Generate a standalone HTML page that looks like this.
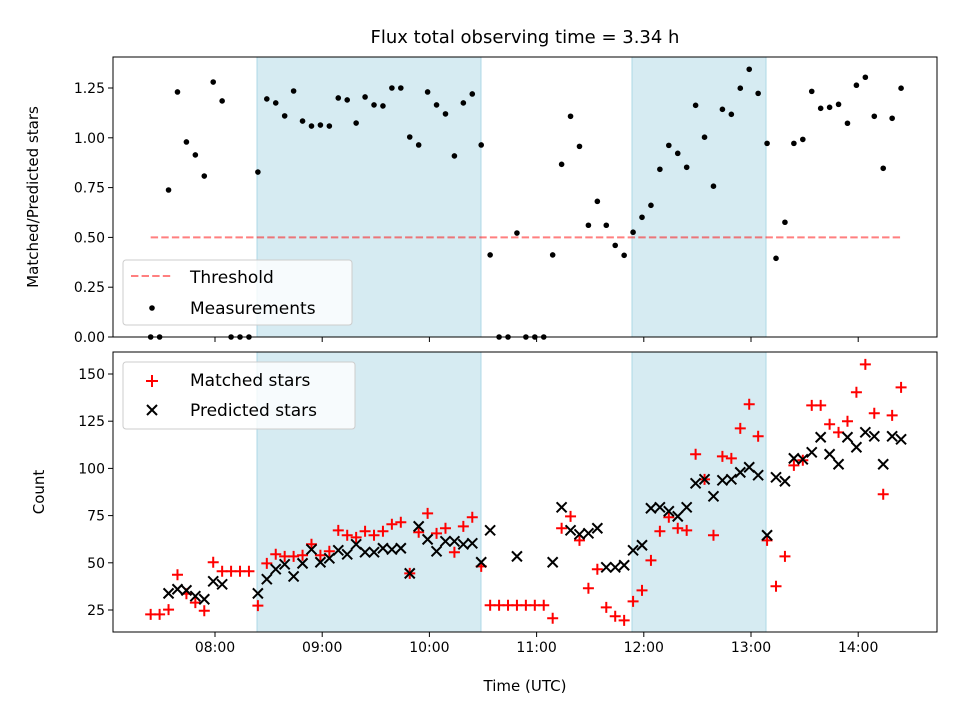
<!DOCTYPE html>
<html><head><meta charset="utf-8"><style>
body{margin:0;background:#fff;}
svg{display:block;font-family:"DejaVu Sans","Liberation Sans",sans-serif;}
</style></head><body>
<svg id="chart" width="960" height="720" viewBox="0 0 960 720" xmlns="http://www.w3.org/2000/svg"></svg>
<script>
const ratioValues=[0,0,0.738,1.23,0.979,0.914,0.808,1.28,1.185,0,0,0,
0.828,1.195,1.175,1.11,1.235,1.084,1.059,1.064,1.059,
1.2,1.19,1.074,1.205,1.165,1.16,1.25,1.25,1.004,0.964,
1.23,1.165,1.12,0.909,1.175,1.22,0.964,0.412,0,0,
0.522,0,0,0,0.412,0.867,1.108,0.957,0.561,0.681,
0.561,0.46,0.41,0.526,0.601,0.661,0.842,0.962,0.922,0.852,
1.163,1.003,0.757,1.143,1.118,1.249,1.344,1.223,0.972,0.395,
0.576,0.972,0.992,1.233,1.148,1.153,1.168,1.073,1.264,1.304,
1.108,0.847,1.098,1.249];
const matchedValues=[22.7,22.7,25.2,43.7,33.6,28.9,24.6,50.3,45.5,45.5,45.5,45.5,
27.3,49.7,54.5,53.4,53.4,54,59.8,54,56.1,
67.2,64.6,63.5,66.7,64.6,66.7,70.4,71.5,44.4,66.2,
76.2,65.6,68.3,55.6,69.3,74.1,48.1,27.5,27.5,27.5,
27.5,27.5,27.5,27.5,20.6,68.3,74.6,61.9,36.5,46.6,
26.4,21.7,19.5,29.6,35.4,51.3,66.7,74.1,68.3,67.2,
107.5,94.2,64.6,106.4,105.3,121.2,134,117,61.9,37.6,
53.4,101.6,104.3,133.4,133.4,123.4,119.1,125,140.3,155.1,
129.2,86.3,128.1,142.9];
const predictedValues=[null,null,33.8,36,35.4,32.3,30.7,40.2,38.6,null,null,null,
33.8,41.3,46.6,49.2,42.8,49.7,57.1,50.3,52.4,
56.6,54.5,59.8,55.6,55.6,57.7,57.1,57.7,44.4,69.3,
62.4,56.1,61.4,61.4,59.8,60.3,50.3,67.2,null,null,
53.4,null,null,null,50.3,79.4,67.2,65.1,65.6,68.3,
47.6,47.6,48.7,56.6,59.3,78.9,79.4,77.3,74.6,79.4,
92.1,94.2,85.2,93.7,94.2,97.9,100.6,96.4,64.6,95.3,
93.2,105.3,104.8,108.5,116.5,107.5,102.2,116.5,111.2,119.1,
117,102.2,117,115.4];
const startHour=7.4, stepHours=5/60;
const observingSpans=[[8.392,10.481],[11.89,13.14]];
const threshold=0.5;
const xTickHours=[8,9,10,11,12,13,14];
const xTickLabels=["08:00","09:00","10:00","11:00","12:00","13:00","14:00"];
const ratioTicks=[0,0.25,0.5,0.75,1.0,1.25];
const countTicks=[25,50,75,100,125,150];

const L=113,R=937,T1=57,B1=337,T2=352,B2=632;
const tMin=8-(215-L)/107.2, tMax=8+(R-215)/107.2;
const xS=t=>L+(t-tMin)/(tMax-tMin)*(R-L);
const rMax=(B1-T1)/199.2;
const y1=v=>B1-v/rMax*(B1-T1);
const cMin=13.35,cMax=161.65;
const y2=v=>B2-(v-cMin)/(cMax-cMin)*(B2-T2);
const timeOf=i=>startHour+i*stepHours;

const svg=document.getElementById('chart');
const NS='http://www.w3.org/2000/svg';
function mk(tag,attrs,parent){const e=document.createElementNS(NS,tag);for(const k in attrs)e.setAttribute(k,attrs[k]);(parent||svg).appendChild(e);return e;}
function txt(s,attrs,parent){const e=mk('text',attrs,parent);e.textContent=s;return e;}

// panels
[[T1,B1,'top-panel'],[T2,B2,'bottom-panel']].forEach(([t,b,nm])=>{
  const g=mk('g',{});
  
  
  observingSpans.forEach(s=>{
    const r=mk('rect',{x:xS(s[0]),y:t,width:xS(s[1])-xS(s[0]),height:b-t,fill:'#add8e6','fill-opacity':0.5,stroke:'#add8e6','stroke-width':1},g);
    
    
  });
});

// threshold
const th=mk('line',{x1:xS(timeOf(0)),x2:xS(timeOf(ratioValues.length-1)),y1:y1(threshold),y2:y1(threshold),stroke:'#ff0000','stroke-opacity':0.5,'stroke-width':2,'stroke-dasharray':'7.4,3.2'});



// measurements
ratioValues.forEach((v,i)=>{
  const c=mk('circle',{cx:xS(timeOf(i)),cy:y1(v),r:2.8,fill:'#000'});
  
  
});
// matched
matchedValues.forEach((v,i)=>{
  if(v==null)return;
  const x=xS(timeOf(i)),y=y2(v);
  const p=mk('path',{d:`M${x-5.5},${y}H${x+5.5}M${x},${y-5.5}V${y+5.5}`,stroke:'#ff0000','stroke-width':2,fill:'none'});
  
  
});
predictedValues.forEach((v,i)=>{
  if(v==null)return;
  const x=xS(timeOf(i)),y=y2(v);
  const p=mk('path',{d:`M${x-5},${y-5}L${x+5},${y+5}M${x-5},${y+5}L${x+5},${y-5}`,stroke:'#000','stroke-width':2,fill:'none'});
  
  
});

// frames & ticks
[[T1,B1],[T2,B2]].forEach(([t,b],pi)=>{
  const f=mk('rect',{x:L,y:t,width:R-L,height:b-t,fill:'none',stroke:'#000','stroke-width':1});
  
  
  xTickHours.forEach((h,k)=>{
    mk('line',{x1:xS(h),x2:xS(h),y1:b,y2:b+5,stroke:'#000'});
    if(pi===1){
      const tl=txt(xTickLabels[k],{x:xS(h),y:b+20,'text-anchor':'middle','font-size':14,fill:'#000'});
      
      
    }
  });
});
ratioTicks.forEach(v=>{
  mk('line',{x1:L-5,x2:L,y1:y1(v),y2:y1(v),stroke:'#000'});
  const tl=txt(v.toFixed(2),{x:L-8,y:y1(v)+5,'text-anchor':'end','font-size':14});
  
  
});
countTicks.forEach(v=>{
  mk('line',{x1:L-5,x2:L,y1:y2(v),y2:y2(v),stroke:'#000'});
  const tl=txt(String(v),{x:L-8,y:y2(v)+5,'text-anchor':'end','font-size':14});
  
  
});

// legends
const lg1=mk('g',{});


mk('rect',{x:123,y:260,width:229,height:65,rx:3,fill:'#fff','fill-opacity':0.8,stroke:'#ccc'},lg1);
mk('line',{x1:131,x2:172,y1:276,y2:276,stroke:'#ff0000','stroke-opacity':0.5,'stroke-width':2,'stroke-dasharray':'7.4,3.2'},lg1);
txt('Threshold',{x:190,y:283,'font-size':17},lg1);
mk('circle',{cx:152,cy:308,r:2.8,fill:'#000'},lg1);
txt('Measurements',{x:190,y:314,'font-size':17},lg1);

const lg2=mk('g',{});


mk('rect',{x:123,y:362,width:232,height:67,rx:3,fill:'#fff','fill-opacity':0.8,stroke:'#ccc'},lg2);
mk('path',{d:'M146,381H158M152,375V387',stroke:'#ff0000','stroke-width':2},lg2);
txt('Matched stars',{x:190,y:386,'font-size':17},lg2);
mk('path',{d:'M147,405L157,415M147,415L157,405',stroke:'#000','stroke-width':2},lg2);
txt('Predicted stars',{x:190,y:416,'font-size':17},lg2);

const title=txt('Flux total observing time = 3.34 h',{x:525,y:43,'text-anchor':'middle','font-size':18});


const xl=txt('Time (UTC)',{x:525,y:691,'text-anchor':'middle','font-size':15});


const yl1=txt('Matched/Predicted stars',{x:0,y:0,'text-anchor':'middle','font-size':15,transform:'translate(38,197) rotate(-90)'});


const yl2=txt('Count',{x:0,y:0,'text-anchor':'middle','font-size':15,transform:'translate(44,492) rotate(-90)'});


</script>
</body></html>
